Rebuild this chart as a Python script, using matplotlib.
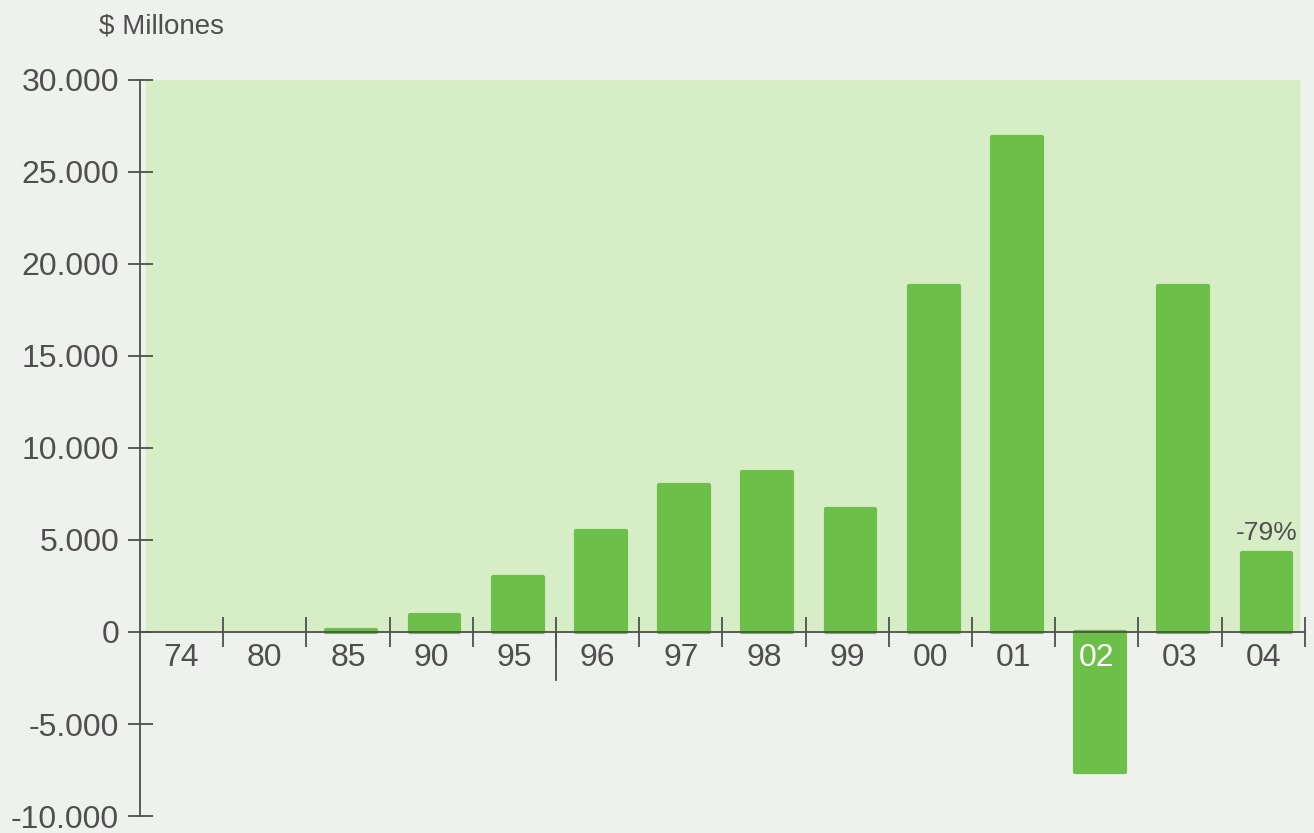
import numpy as np
import matplotlib.pyplot as plt

# Datos
anios = ['74', '80', '85', '90', '95', '96', '97', '98', '99', '00', '01', '02', '03', '04']
valores = [0, 0, 100, 900, 3000, 5500, 8000, 8700, 6700, 18800, 26900, -7600, 18800, 4300]
y_ticks = [-10000, -5000, 0, 5000, 10000, 15000, 20000, 25000, 30000]
y_labels = ['-10.000', '-5.000', '0', '5.000', '10.000', '15.000', '20.000', '25.000', '30.000']
nota_04 = '-79%'

plt.rcParams['font.family'] = ['Liberation Sans', 'DejaVu Sans']
gris = '#4f4f4f'
verde = '#6cc04a'
fondo_verde = '#d6edc6'

fig = plt.figure(figsize=(13.14, 8.33), dpi=100)
fig.patch.set_facecolor('#eff1ee')
ax = fig.add_axes([0.1065, 0.0204, 0.8865, 0.8836])
ax.set_facecolor('none')

x = np.arange(len(anios))
ax.set_xlim(-0.5, len(anios) - 0.5)
ax.set_ylim(-10000, 30000)

# zona verde clara por encima de cero
ax.axhspan(0, 30000, xmin=0.005, xmax=0.995, color=fondo_verde, zorder=0)

# barras con esquinas algo redondeadas (sin borde si el valor es cero)
bordes = [3 if v != 0 else 0 for v in valores]
ax.bar(x + 0.04, valores, width=0.6, color=verde, edgecolor=verde,
       linewidth=bordes, joinstyle='round', zorder=2)

# ejes
for s in ['top', 'right']:
    ax.spines[s].set_visible(False)
ax.spines['left'].set_color(gris)
ax.spines['left'].set_linewidth(1.3)
ax.spines['bottom'].set_position(('data', 0))
ax.spines['bottom'].set_color(gris)
ax.spines['bottom'].set_linewidth(1.3)
ax.spines['bottom'].set_zorder(3)

ax.set_yticks(y_ticks)
ax.set_yticklabels(y_labels)
ax.tick_params(axis='y', direction='inout', length=18, width=1.3, color=gris,
               labelsize=23, labelcolor=gris, pad=6)

# etiquetas de categoría (sin marca) y marcas entre categorías
ax.set_xticks(x)
ax.set_xticklabels([])
ax.tick_params(axis='x', which='major', length=0)
ax.set_xticks(np.arange(len(anios)) + 0.5, minor=True)
ax.tick_params(axis='x', which='minor', direction='inout', length=22, width=1.3, color=gris)

for i, a in enumerate(anios):
    col = 'white' if valores[i] < 0 else gris
    ax.text(i, -1400, a, ha='center', va='center', fontsize=23, color=col, zorder=4)

# separador entre 95 y 96
sep = anios.index('95') + 0.5
ax.plot([sep, sep], [0, -2600], color=gris, lw=1.3, zorder=3)

# nota sobre el último año
ax.text(x[-1] + 0.04, valores[-1] + 450, nota_04, ha='center', va='bottom', fontsize=19, color=gris)

fig.text(0.123, 0.968, '$ Millones', ha='center', va='center', fontsize=20, color=gris)

fig.savefig('out.png', dpi=100, facecolor=fig.get_facecolor())
